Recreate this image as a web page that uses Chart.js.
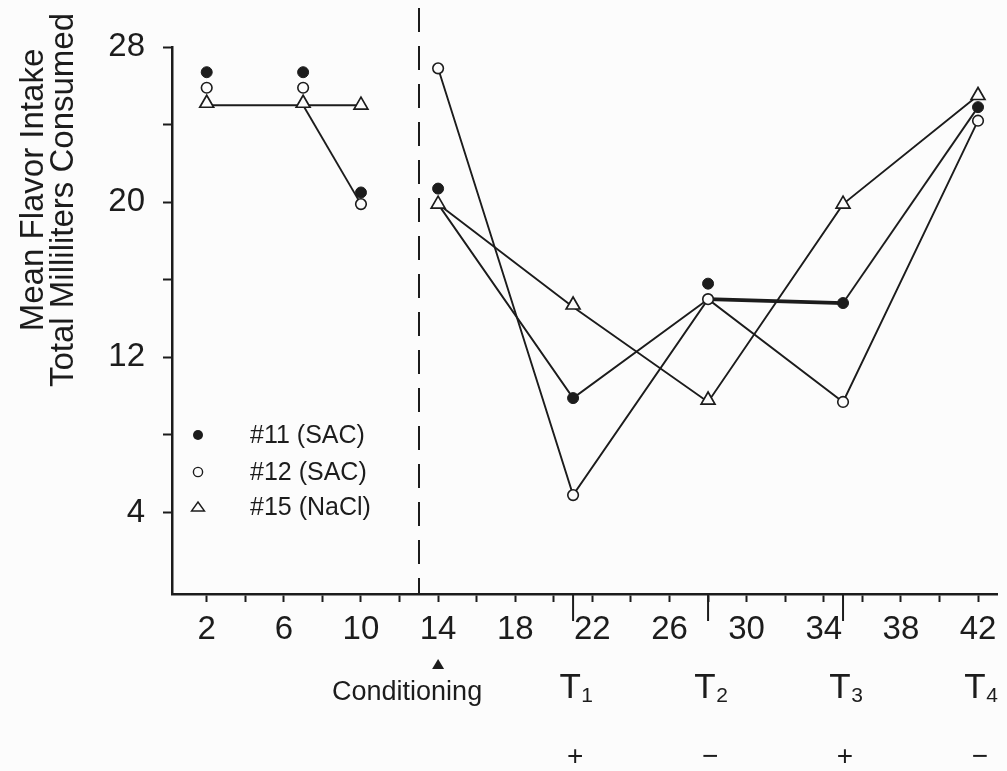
<!DOCTYPE html>
<html><head><meta charset="utf-8">
<script src="https://cdn.jsdelivr.net/npm/chart.js@4"></script>
<style>html,body{margin:0;padding:0;background:#fcfcfc;} #wrap{width:1007px;height:771px;position:relative;}</style>
</head><body><div id="wrap"><canvas id="c"></canvas></div>
<script>
const FONT = '"Liberation Sans", Arial, Helvetica, sans-serif';
const INK = '#1c1c1c';
const PAPER = '#fcfcfc';

// ---- data ----
const markerDays = [2, 7, 10, 14, 21, 28, 35, 42];
const sac11 = [26.7, 26.7, 20.5, 20.7, 9.9, 15.8, 14.8, 24.9];
const sac12 = [25.9, 25.9, 19.9, 26.9, 4.9, 15.0, 9.7, 24.2];
const nacl15 = [25.1, 25.1, 25.0, 19.9, 14.7, 9.8, 19.9, 25.5];

// connecting lines as drawn in the figure
const preDays = [2, 7, 10];
const preLine15 = [25.0, 25.0, 25.0];
const dropDays = [7, 10];
const dropLine = [25.0, 19.9];
const testPhaseDays = [14, 21, 28, 35, 42];
const testLine11 = [19.9, 9.9, 15.0, 14.8, 24.9];
const testLine12 = [26.9, 4.9, 15.0, 9.7, 24.2];
const testLine15 = [19.9, 14.6, 9.7, 19.9, 25.5];

// ---- ticks and labels ----
const xTickValues = [2, 4, 6, 8, 10, 12, 14, 16, 18, 20, 22, 24, 26, 28, 30, 32, 34, 36, 38, 40, 42];
const xTickLabels = [2, 6, 10, 14, 18, 22, 26, 30, 34, 38, 42];
const yTickValues = [4, 8, 12, 16, 20, 24, 28];
const yTickLabels = [4, 12, 20, 28];
const legendLabels = ['#11 (SAC)', '#12 (SAC)', '#15 (NaCl)'];
const yTitleLines = ['Mean Flavor Intake', 'Total Milliliters Consumed'];
const conditioningDay = 14;
const conditioningLabel = 'Conditioning';
const dividerDay = 13;
const testDays = [21, 28, 35, 42];
const testSubscripts = ['1', '2', '3', '4'];
const testSigns = ['+', '\u2212', '+', '\u2212'];
const longTickDays = [21, 28, 35];
const thickSegmentStart = 28;

const pts = (xs, ys) => xs.map((x, i) => ({x: x, y: ys[i]}));

const lineStyle = {showLine: true, pointRadius: 0, borderColor: INK, borderWidth: 1.9, fill: false, tension: 0, order: 2};

const datasets = [
  {label: legendLabels[0], data: pts(markerDays, sac11), pointStyle: 'circle', pointRadius: 5.5, backgroundColor: INK, borderColor: INK, borderWidth: 1, showLine: false, order: 0},
  {label: legendLabels[1], data: pts(markerDays, sac12), pointStyle: 'circle', pointRadius: 5.3, backgroundColor: PAPER, borderColor: INK, borderWidth: 1.6, showLine: false, order: 0},
  {label: legendLabels[2], data: pts(markerDays, nacl15), pointStyle: 'triangle', pointRadius: 8, backgroundColor: PAPER, borderColor: INK, borderWidth: 1.7, showLine: false, order: 0},
  Object.assign({label: 'pre15', data: pts(preDays, preLine15)}, lineStyle),
  Object.assign({label: 'drop', data: pts(dropDays, dropLine)}, lineStyle),
  Object.assign({label: 'test11', data: pts(testPhaseDays, testLine11),
    segment: {borderWidth: c => c.p0.parsed.x === thickSegmentStart ? 3.8 : 1.9}}, lineStyle),
  Object.assign({label: 'test12', data: pts(testPhaseDays, testLine12)}, lineStyle),
  Object.assign({label: 'test15', data: pts(testPhaseDays, testLine15)}, lineStyle)
];

const annot = {
  id: 'annot',
  beforeDatasetsDraw(chart) {
    const ctx = chart.ctx, a = chart.chartArea, xs = chart.scales.x;
    ctx.save();
    ctx.strokeStyle = INK; ctx.lineWidth = 2;
    ctx.setLineDash([24, 14]);
    const dx = Math.round(xs.getPixelForValue(dividerDay));
    ctx.beginPath(); ctx.moveTo(dx, a.top - 39); ctx.lineTo(dx, a.bottom); ctx.stroke();
    ctx.restore();
  },
  afterDraw(chart) {
    const ctx = chart.ctx, a = chart.chartArea, xs = chart.scales.x;
    ctx.save();
    ctx.fillStyle = INK; ctx.strokeStyle = INK;
    // long ticks at test days
    ctx.lineWidth = 2;
    longTickDays.forEach(d => {
      const px = xs.getPixelForValue(d);
      ctx.beginPath(); ctx.moveTo(px, a.bottom); ctx.lineTo(px, a.bottom + 27); ctx.stroke();
    });
    // conditioning marker
    const cx = xs.getPixelForValue(conditioningDay);
    ctx.beginPath();
    ctx.moveTo(cx, a.bottom + 65); ctx.lineTo(cx + 6, a.bottom + 75); ctx.lineTo(cx - 6, a.bottom + 75); ctx.closePath(); ctx.fill();
    ctx.font = '27px ' + FONT; ctx.textAlign = 'center'; ctx.textBaseline = 'alphabetic';
    ctx.fillText(conditioningLabel, cx - 31, a.bottom + 106);
    // test labels
    testDays.forEach((d, i) => {
      const px = xs.getPixelForValue(d);
      ctx.font = '35px ' + FONT; ctx.textAlign = 'center';
      ctx.fillText('T', px - 3, a.bottom + 104);
      ctx.font = '21px ' + FONT;
      ctx.fillText(testSubscripts[i], px + 14, a.bottom + 108);
      ctx.font = '28px ' + FONT;
      ctx.fillText(testSigns[i], px + 2, a.bottom + 171);
    });
    // y title
    ctx.font = '33px ' + FONT; ctx.textAlign = 'center'; ctx.textBaseline = 'alphabetic';
    [[43, 190], [73, 200]].forEach((p, i) => {
      ctx.save(); ctx.translate(p[0], p[1]); ctx.rotate(-Math.PI / 2);
      ctx.fillText(yTitleLines[i], 0, 0); ctx.restore();
    });
    // legend
    const lx = a.left + 26, tx = a.left + 78;
    const rows = [a.bottom - 159, a.bottom - 122, a.bottom - 87];
    ctx.lineWidth = 1.4;
    ctx.beginPath(); ctx.arc(lx, rows[0], 5, 0, Math.PI * 2); ctx.fill();
    ctx.beginPath(); ctx.arc(lx, rows[1], 4.6, 0, Math.PI * 2); ctx.fillStyle = PAPER; ctx.fill(); ctx.stroke();
    ctx.beginPath(); ctx.moveTo(lx, rows[2] - 5); ctx.lineTo(lx + 6.5, rows[2] + 4); ctx.lineTo(lx - 6.5, rows[2] + 4); ctx.closePath(); ctx.fill(); ctx.stroke();
    ctx.fillStyle = INK;
    ctx.font = '25px ' + FONT; ctx.textAlign = 'left'; ctx.textBaseline = 'middle';
    legendLabels.forEach((t, i) => ctx.fillText(t, tx, rows[i] + 1));
    ctx.restore();
  }
};

new Chart(document.getElementById('c'), {
  type: 'scatter',
  data: {datasets: datasets},
  options: {
    responsive: true, maintainAspectRatio: false, animation: false,
    layout: {padding: {top: 47, right: 4, left: 0, bottom: 0}},
    plugins: {legend: {display: false}, tooltip: {enabled: false}},
    scales: {
      x: {
        type: 'linear', min: 0.2, max: 43,
        afterBuildTicks: s => { s.ticks = xTickValues.map(v => ({value: v})); },
        afterFit: s => { s.height = 177; },
        ticks: {autoSkip: false, maxRotation: 0, padding: 8, color: INK, font: {family: FONT, size: 33},
          callback: v => xTickLabels.includes(v) ? String(v) : ''},
        grid: {display: true, drawOnChartArea: false, drawTicks: true, tickLength: 8, tickColor: INK, tickWidth: 2},
        border: {display: true, color: INK, width: 2.5}
      },
      y: {
        type: 'linear', min: -0.2, max: 28,
        afterBuildTicks: s => { s.ticks = yTickValues.map(v => ({value: v})); },
        afterFit: s => { s.width = 172; },
        ticks: {autoSkip: false, padding: 18, color: INK, font: {family: FONT, size: 33},
          callback: v => yTickLabels.includes(v) ? String(v) : ''},
        grid: {display: true, drawOnChartArea: false, drawTicks: true, tickLength: 9, tickColor: INK, tickWidth: 2},
        border: {display: true, color: INK, width: 2.5}
      }
    }
  },
  plugins: [annot]
});
</script></body></html>
